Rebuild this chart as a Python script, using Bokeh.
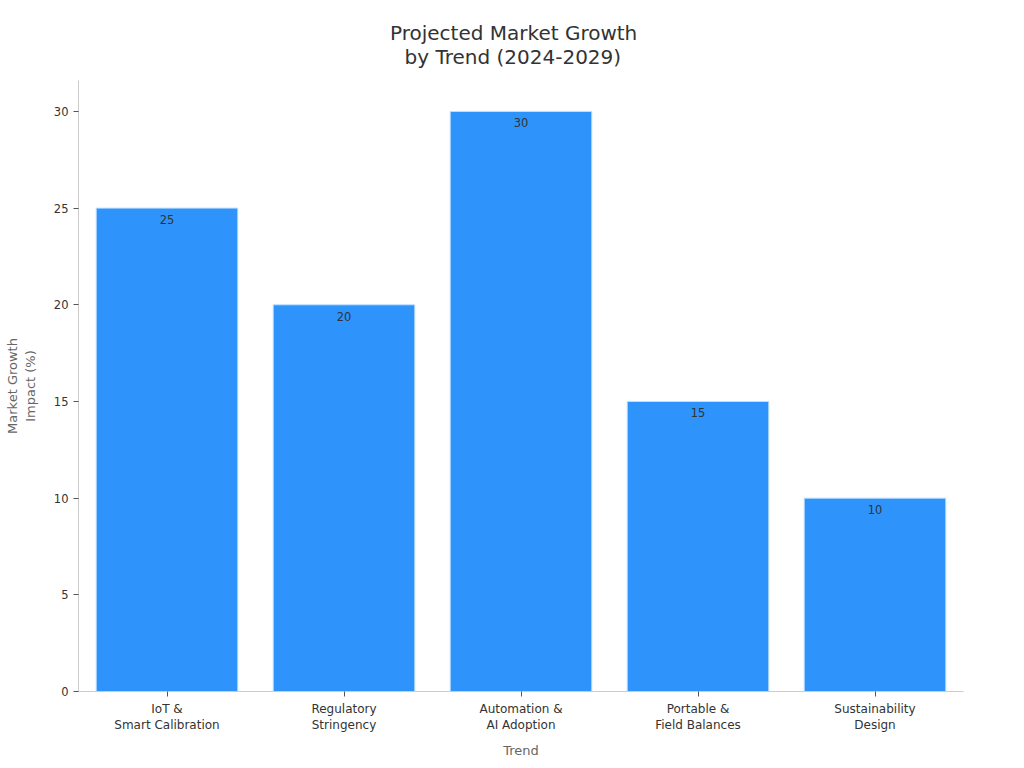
from bokeh.plotting import figure
from bokeh.models import ColumnDataSource, Range1d, Title
from bokeh.core.properties import value
from bokeh.embed import file_html
from bokeh.resources import INLINE

categories = ["IoT &\nSmart Calibration", "Regulatory\nStringency", "Automation &\nAI Adoption",
              "Portable &\nField Balances", "Sustainability\nDesign"]
growth = [25, 20, 30, 15, 10]
labels = [str(v) for v in growth]
y_ticks = [0, 5, 10, 15, 20, 25, 30]
title_lines = ["Projected Market Growth", "by Trend (2024-2029)"]

FONT = "DejaVu Sans"

src = ColumnDataSource(dict(cat=categories, val=growth, lab=labels))

p = figure(x_range=categories, y_range=Range1d(0, 31.6), width=1024, height=768,
           output_backend="svg", toolbar_location=None,
           min_border_left=78, min_border_right=61, min_border_top=80, min_border_bottom=77)
p.x_range.range_padding = 0

p.vbar(x="cat", top="val", width=0.8, source=src, fill_color="#2E93FA",
       line_color="#BFE0FF", line_width=1)
p.text(x="cat", y="val", text="lab", source=src, text_align="center", text_baseline="top",
       y_offset=7, text_font=value(FONT), text_font_size="11.5px", text_color="#333333")

# two title lines, each centred on the page (added nearest-to-frame first)
p.add_layout(Title(text=title_lines[1], align="left", offset=326, standoff=23,
                   text_font=FONT, text_font_size="20px", text_font_style="normal",
                   text_color="#333333"), "above")
p.add_layout(Title(text=title_lines[0], align="left", offset=311.5, standoff=-27,
                   text_font=FONT, text_font_size="20px", text_font_style="normal",
                   text_color="#333333"), "above")

p.xaxis.axis_label = "Trend"
p.yaxis.axis_label = "Market Growth\nImpact (%)"
p.yaxis.ticker = y_ticks
for ax in (p.xaxis, p.yaxis):
    ax.axis_label_text_font = FONT
    ax.axis_label_text_font_size = "13px"
    ax.axis_label_text_font_style = "normal"
    ax.axis_label_text_color = "#666666"
    ax.major_label_text_font = FONT
    ax.major_label_text_color = "#333333"
    ax.axis_line_color = "#cccccc"
    ax.major_tick_line_color = "#555555"
    ax.major_tick_out = 5
    ax.major_tick_in = 0
    ax.minor_tick_line_color = None
p.xaxis.major_label_text_font_size = "12px"
p.yaxis.major_label_text_font_size = "11.5px"
p.xaxis.axis_label_standoff = 8
p.yaxis.axis_label_standoff = 13

p.xgrid.grid_line_color = None
p.ygrid.grid_line_color = None
p.outline_line_color = None

open("out.html", "w").write(file_html(p, INLINE))
